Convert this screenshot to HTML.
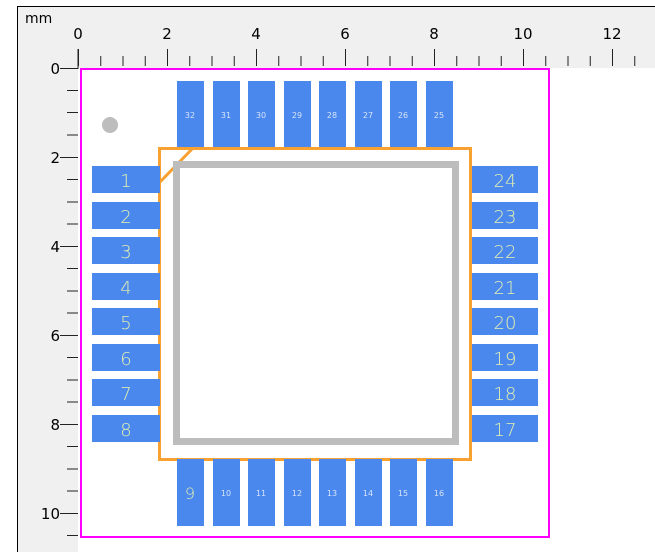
<!DOCTYPE html>
<html><head><style>body{margin:0;background:#fff}svg{display:block}</style></head><body>
<svg width="655" height="552" xmlns="http://www.w3.org/2000/svg" font-family="'DejaVu Sans','Liberation Sans',sans-serif">
<rect x="0" y="0" width="655" height="552" fill="#fff"/>
<rect x="17" y="6" width="638" height="62" fill="#f0f0f0"/>
<rect x="17" y="6" width="61" height="546" fill="#f0f0f0"/>
<line x1="17" y1="6.5" x2="655" y2="6.5" stroke="#000"/>
<line x1="17.5" y1="6" x2="17.5" y2="552" stroke="#000"/>
<text x="25" y="23" font-size="14" fill="#000">mm</text>
<g stroke="#222" stroke-width="1" fill="none">
<path d="M78.5 49V66M100.75 56V66M123 56V66M145.25 56V66M167.5 49V66M189.75 56V66M212 56V66M234.25 56V66M256.5 49V66M278.75 56V66M301 56V66M323.25 56V66M345.5 49V66M367.75 56V66M390 56V66M412.25 56V66M434.5 49V66M456.75 56V66M479 56V66M501.25 56V66M523.5 49V66M545.75 56V66M568 56V66M590.25 56V66M612.5 49V66M634.75 56V66"/>
<path d="M60 68.5H78V49M67 90.5H78M67 112.5H78M67 135H78M60 157.5H78M67 179.5H78M67 202H78M67 224H78M60 246.5H78M67 268.5H78M67 291H78M67 313H78M60 335.5H78M67 357.5H78M67 380H78M67 402H78M60 424.5H78M67 446.5H78M67 469H78M67 491H78M60 513.5H78M67 535.5H78"/>
</g>
<g font-size="15" fill="#000" text-anchor="middle">
<text x="78" y="39">0</text><text x="167" y="39">2</text><text x="256" y="39">4</text><text x="345" y="39">6</text><text x="434" y="39">8</text><text x="523" y="39">10</text><text x="612" y="39">12</text>
</g>
<g font-size="15" fill="#000" text-anchor="end">
<text x="60" y="74">0</text><text x="60" y="163">2</text><text x="60" y="252">4</text><text x="60" y="341">6</text><text x="60" y="430">8</text><text x="60" y="519">10</text>
</g>
<rect x="81" y="69" width="468" height="468" fill="#fff" stroke="#ff00ff" stroke-width="2"/>
<circle cx="110" cy="125" r="8" fill="#bdbdbd"/>
<rect x="159.5" y="148.5" width="311" height="311" fill="#fff" stroke="#f8a030" stroke-width="3"/>
<line x1="193" y1="148" x2="160" y2="182" stroke="#f8a030" stroke-width="3"/>
<rect x="176.5" y="164.5" width="279" height="277" fill="none" stroke="#bdbdbd" stroke-width="7"/>
<g fill="#4a88ee">
<rect x="177" y="81" width="27" height="66"/><rect x="213" y="81" width="27" height="66"/><rect x="248" y="81" width="27" height="66"/><rect x="284" y="81" width="27" height="66"/><rect x="319" y="81" width="27" height="66"/><rect x="355" y="81" width="27" height="66"/><rect x="390" y="81" width="27" height="66"/><rect x="426" y="81" width="27" height="66"/>
<rect x="177" y="459" width="27" height="67"/><rect x="213" y="459" width="27" height="67"/><rect x="248" y="459" width="27" height="67"/><rect x="284" y="459" width="27" height="67"/><rect x="319" y="459" width="27" height="67"/><rect x="355" y="459" width="27" height="67"/><rect x="390" y="459" width="27" height="67"/><rect x="426" y="459" width="27" height="67"/>
<rect x="92" y="166" width="68" height="27"/><rect x="92" y="202" width="68" height="27"/><rect x="92" y="237" width="68" height="27"/><rect x="92" y="273" width="68" height="27"/><rect x="92" y="308" width="68" height="27"/><rect x="92" y="344" width="68" height="27"/><rect x="92" y="379" width="68" height="27"/><rect x="92" y="415" width="68" height="27"/>
<rect x="472" y="166" width="66" height="27"/><rect x="472" y="202" width="66" height="27"/><rect x="472" y="237" width="66" height="27"/><rect x="472" y="273" width="66" height="27"/><rect x="472" y="308" width="66" height="27"/><rect x="472" y="344" width="66" height="27"/><rect x="472" y="379" width="66" height="27"/><rect x="472" y="415" width="66" height="27"/>
</g>
<g font-size="18" fill="#e4f0b0" text-anchor="middle" font-weight="200">
<text x="126" y="187">1</text><text x="126" y="223">2</text><text x="126" y="258">3</text><text x="126" y="294">4</text><text x="126" y="329">5</text><text x="126" y="365">6</text><text x="126" y="400">7</text><text x="126" y="436">8</text>
<text x="505" y="187">24</text><text x="505" y="223">23</text><text x="505" y="258">22</text><text x="505" y="294">21</text><text x="505" y="329">20</text><text x="505" y="365">19</text><text x="505" y="400">18</text><text x="505" y="436">17</text>
<text x="190" y="499" font-size="16">9</text>
</g>
<g font-size="8" fill="#d8e4f8" text-anchor="middle">
<text x="190" y="118">32</text><text x="226" y="118">31</text><text x="261" y="118">30</text><text x="297" y="118">29</text><text x="332" y="118">28</text><text x="368" y="118">27</text><text x="403" y="118">26</text><text x="439" y="118">25</text>
<text x="226" y="496">10</text><text x="261" y="496">11</text><text x="297" y="496">12</text><text x="332" y="496">13</text><text x="368" y="496">14</text><text x="403" y="496">15</text><text x="439" y="496">16</text>
</g>
</svg>
</body></html>
